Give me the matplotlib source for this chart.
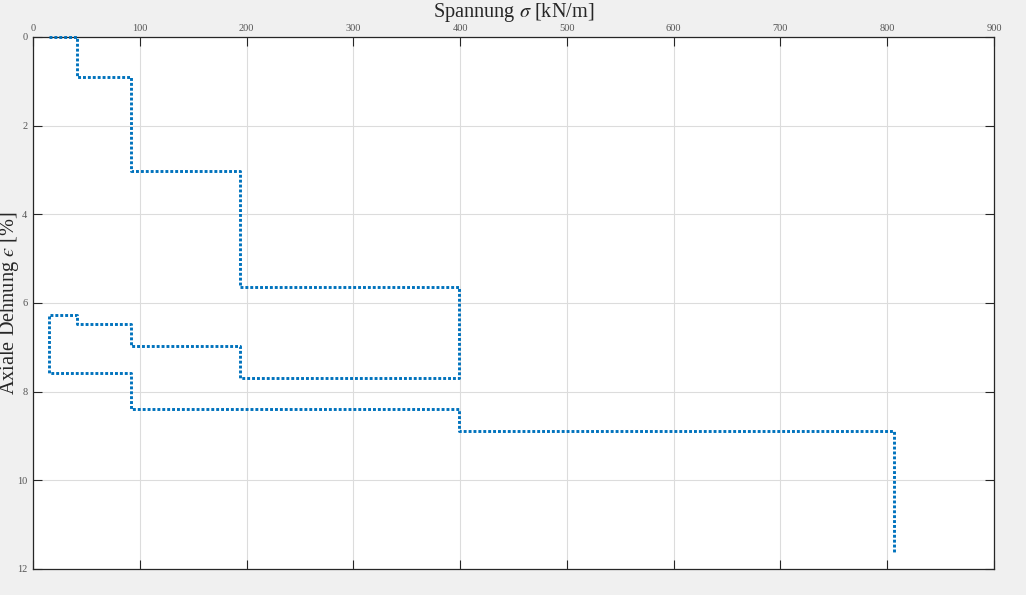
import matplotlib
matplotlib.use("Agg")
import matplotlib.pyplot as plt

plt.rcParams['font.family'] = ['Liberation Serif', 'DejaVu Serif']
plt.rcParams['mathtext.fontset'] = 'stix'

# Spannung sigma [kN/m] and axial strain epsilon [%] along the loading path
sigma = [15, 41, 41, 92, 92, 194, 194, 399, 399, 194, 194, 92, 92, 41, 41, 15,
         15, 92, 92, 399, 399, 806, 806]
eps = [0.0, 0.0, 0.90, 0.90, 3.02, 3.02, 5.64, 5.64, 7.70, 7.70, 6.97, 6.97,
       6.48, 6.48, 6.26, 6.26, 7.59, 7.59, 8.40, 8.40, 8.88, 8.88, 11.63]

xticks = list(range(0, 1000, 100))
yticks = list(range(0, 14, 2))

fig = plt.figure(figsize=(10.26, 5.95), dpi=100)
fig.patch.set_facecolor('#f0f0f0')
ax = fig.add_axes([33 / 1026, 1 - 569 / 595, 961 / 1026, 532 / 595])
ax.set_facecolor('white')

ax.plot(sigma, eps, color='#0072BD', lw=2.1, linestyle=(0, (1.0, 0.68)),
        dash_capstyle='butt', clip_on=False, zorder=3)

ax.set_xlim(0, 900)
ax.set_ylim(12, 0)
ax.set_xticks(xticks)
ax.set_yticks(yticks)
ax.xaxis.tick_top()
ax.tick_params(axis='both', which='both', direction='in', length=6.5, width=0.8,
               colors='#262626', labelsize=7.5, top=True, bottom=True,
               left=True, right=True, labeltop=True, labelbottom=False)
ax.tick_params(axis='x', pad=3)
ax.tick_params(axis='y', pad=4)
for lbl in ax.get_xticklabels() + ax.get_yticklabels():
    lbl.set_color('#555555')

ax.grid(True, color='#dcdcdc', linewidth=0.8)
ax.set_axisbelow(True)
for s in ax.spines.values():
    s.set_color('#262626')
    s.set_linewidth(0.9)
    s.set_zorder(2.5)

ax.xaxis.set_label_position('top')
ax.set_xlabel('Spannung $\\sigma$ [kN/m]', fontsize=14.6, color='#262626')
ax.xaxis.set_label_coords(0.5, (569 - 17) / 532)
ax.xaxis.label.set_va('baseline')
ax.set_ylabel('Axiale Dehnung $\N{GREEK LUNATE EPSILON SYMBOL}$ [%]',
              fontsize=14.6, color='#262626')
ax.yaxis.set_label_coords(-23 / 961, 0.5)
ax.yaxis.label.set_va('center')

fig.savefig('out.png', dpi=100, facecolor=fig.get_facecolor())
